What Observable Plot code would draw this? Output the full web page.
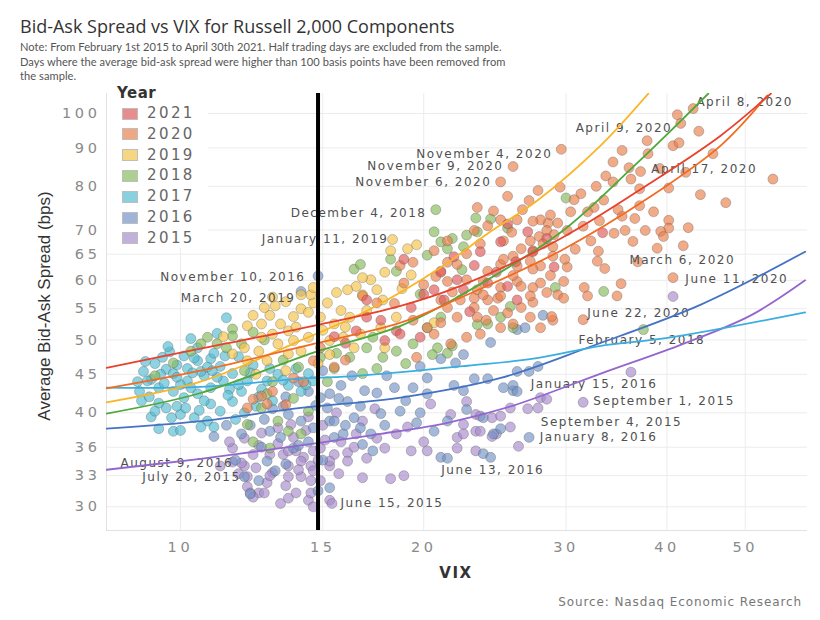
<!DOCTYPE html>
<html><head><meta charset="utf-8">
<script src="https://cdn.jsdelivr.net/npm/d3@7"></script>
<script src="https://cdn.jsdelivr.net/npm/@observablehq/plot@0.6"></script>
<style>
body{margin:0;background:#fff}
#root{position:relative;width:820px;height:620px;overflow:hidden;font-family:"Open Sans",sans-serif}
#title{position:absolute;left:20px;top:14px;font-size:18px;line-height:24px;color:#333;white-space:nowrap}
#sub{position:absolute;left:20px;top:40px;font-family:Lato,"Open Sans",sans-serif;font-size:11.1px;line-height:14.5px;color:#555;white-space:nowrap;letter-spacing:0.05px}
#chart{position:absolute;left:0;top:85px}
#legend{position:absolute;left:107px;top:84px;width:101px;height:164px;background:#fff}
#legend .hd{position:absolute;left:10px;top:0;height:18px;line-height:18px;font-family:"DejaVu Sans";font-weight:bold;font-size:15px;color:#333;letter-spacing:0.5px}
#legend .row{position:absolute;left:15px;height:20px;line-height:20px;font-family:"DejaVu Sans";font-size:15px;color:#666;letter-spacing:2.4px}
#legend .sw{position:absolute;left:0;top:4.5px;width:14px;height:10px;border:1px solid #a0a0a0}
#legend .lt{position:absolute;left:25px;top:0}
#ytitle{position:absolute;left:45px;top:306px;transform:translate(-50%,-50%) rotate(-90deg);white-space:nowrap;font-family:"Liberation Sans Narrow","Liberation Sans",sans-serif;font-size:17px;color:#333}
#xtitle{position:absolute;left:456px;top:573px;transform:translate(-50%,-50%);font-family:"DejaVu Sans";font-weight:bold;font-size:15px;letter-spacing:1.5px;color:#333}
#caption{position:absolute;right:18px;top:602px;transform:translateY(-50%);font-family:"DejaVu Sans";font-size:12px;letter-spacing:0.9px;color:#777}
#chart svg text{letter-spacing:1.5px}
#chart [aria-label^="x-axis"] text,#chart [aria-label^="y-axis"] text{fill:#8a8a8a;font-size:14.5px;letter-spacing:3.6px;font-family:"DejaVu Sans"}
</style></head>
<body>
<div id="root">
  <div id="title">Bid-Ask Spread vs VIX for Russell 2,000 Components</div>
  <div id="sub">Note: From February 1st 2015 to April 30th 2021. Half trading days are excluded from the sample.<br>Days where the average bid-ask spread were higher than 100 basis points have been removed from<br>the sample.</div>
  <div id="chart"></div>
  <div id="legend"></div>
  <div id="ytitle">Average Bid-Ask Spread (bps)</div>
  <div id="xtitle">VIX</div>
  <div id="caption">Source: Nasdaq Economic Research</div>
</div>
<script>
// ---------- data ----------
const xTicks = [10, 15, 20, 30, 40, 50];
const yTicks = [30, 33, 36, 40, 45, 50, 55, 60, 65, 70, 80, 90, 100];
const years = [2021, 2020, 2019, 2018, 2017, 2016, 2015];
const pointColors = ["#de5658", "#ea7e4a", "#f4c347", "#84ba5b", "#52bcd3", "#7392c4", "#a68bcc"];
const lineColors = ["#e8412c", "#f26b21", "#fbb425", "#4ea83a", "#3aaee0", "#4472c4", "#9467cf"];
const thresholdVix = 14.8;

// [VIX, average bid-ask spread (bps)]
const pts2015 = [[13.3,30.3],[13.9,31.3],[12.5,31.3],[12.8,32.3],[13.0,33.3],[13.6,34.0],[14.1,32.9],[14.5,34.0],[12.0,34.0],[12.3,35.2],
[12.9,35.2],[13.4,35.2],[13.9,35.6],[14.6,35.6],[15.5,35.2],[15.3,34.0],[14.9,32.5],[14.4,30.6],[15.3,30.6],[13.8,37.1],
[13.2,38.2],[11.6,35.9],[11.9,34.3],[12.1,31.9],[12.2,31.3],[12.7,31.3],[13.6,32.9],[14.2,34.9],[14.5,31.3],[14.6,30.0],
[11.2,34.0],[11.6,34.4],[11.5,36.6],[15.4,30.3],[18.2,32.7],[18.9,33.0],[16.1,35.4],[15.8,36.6],[16.5,37.5],[17.9,35.9],
[18.5,37.5],[19.1,38.3],[20.0,36.6],[19.3,35.6],[20.2,35.6],[22.0,37.1],[22.4,38.6],[23.2,37.8],[24.6,37.5],[25.6,38.3],
[26.9,40.5],[20.4,41.1],[21.6,39.8],[22.6,41.4],[23.2,39.8],[14.9,35.9],[15.3,34.5],[16.1,34.5],[14.5,32.5],[13.6,35.6],
[14.1,34.5],[14.6,33.5],[31.5,41.3],[36.1,45.3],[40.7,57.1],[27.9,41.9],[28.4,41.7],[27.7,40.6],[25.6,40.6],[24.3,39.4],
[23.5,39.6],[24.9,39.6],[26.2,36.1],[23.2,35.6],[22.0,35.9],[23.5,37.8],[22.4,37.5],[24.3,37.2],[12.1,32.9],[15.0,38.5],
[15.6,40.0],[14.4,39.5],[16.8,39.0],[17.4,40.5],[12.5,36.2],[12.0,37.0],[12.4,33.8],[12.9,33.0],[13.5,32.0],[14.0,33.6],
[14.8,34.6],[13.2,36.4],[12.6,37.6],[13.7,38.6],[14.3,37.9],[15.1,36.8],[16.4,36.0],[17.0,34.8],[15.7,33.2],[12.3,30.9],
[11.8,33.2],[13.6,30.8],[16.8,32.8],[17.5,37.0]];

const pts2016 = [[14.4,42.7],[14.9,41.9],[15.2,40.6],[13.6,39.8],[14.1,39.0],[14.6,38.2],[15.3,39.0],[13.3,37.1],[13.8,35.9],[14.4,36.6],
[15.5,37.1],[12.0,32.9],[12.2,31.2],[12.5,32.5],[12.8,34.5],[11.4,38.5],[11.9,37.5],[12.2,38.5],[18.4,43.2],[19.4,43.2],
[20.2,42.4],[22.4,42.8],[25.1,43.2],[25.8,42.8],[16.7,40.8],[17.7,39.9],[16.7,38.2],[17.2,37.5],[19.6,38.8],[20.6,37.8],
[21.4,39.0],[23.7,39.4],[24.9,38.1],[21.0,34.9],[21.4,34.8],[23.7,35.3],[24.2,34.9],[17.3,35.6],[16.8,36.3],[15.9,37.5],
[15.5,39.0],[16.4,39.4],[16.1,41.4],[15.3,42.4],[15.3,31.8],[14.8,31.5],[28.1,53.9],[26.1,51.6],[26.7,51.9],[24.2,49.6],
[27.7,46.1],[27.0,45.4],[26.1,45.4],[25.8,43.5],[26.1,42.7],[24.0,44.4],[23.1,44.4],[21.9,46.6],[22.4,47.8],[21.0,47.2],
[19.8,46.1],[20.2,44.5],[27.0,37.1],[24.4,37.5],[14.8,60.8],[14.1,58.0],[11.7,34.6],[13.0,40.5],[13.5,42.0],[14.0,44.0],
[15.8,43.5],[16.3,44.8],[15.0,45.5],[17.5,42.5],[18.0,44.8],[19.0,41.5],[12.6,36.0],[11.0,37.2],[13.1,33.5],[13.4,40.8],
[12.7,39.2],[14.7,40.9],[15.7,41.8],[16.9,42.8],[12.9,37.8],[14.0,36.2],[15.0,34.6],[13.5,34.2],[16.0,38.5],[18.7,40.2],
[17.9,38.5],[19.8,40.0],[22.6,40.4],[21.8,43.5]];

const pts2017 = [[11.4,53.5],[9.5,47.4],[9.2,44.3],[9.4,43.2],[9.6,45.7],[9.9,46.3],[10.2,45.8],[10.5,46.9],[10.9,47.2],[11.2,46.1],
[10.7,44.8],[10.2,44.1],[9.8,42.7],[10.1,41.9],[10.5,42.4],[10.9,43.2],[11.3,44.1],[11.6,45.1],[9.6,40.6],[10.0,39.8],
[10.4,39.4],[9.2,39.5],[9.4,38.1],[10.9,41.1],[11.2,40.2],[10.8,39.0],[9.1,44.1],[9.45,45.0],[10.6,45.4],[11.0,48.0],
[10.5,48.8],[10.1,47.6],[11.9,42.7],[11.6,41.4],[12.1,44.1],[9.8,45.1],[10.3,43.2],[8.9,42.7],[9.0,45.4],[9.8,37.8],
[14.4,45.1],[14.6,44.1],[14.1,42.7],[14.3,43.6],[13.6,43.5],[12.3,46.3],[12.8,44.1],[9.3,46.5],[10.0,43.6],[10.7,41.5],
[11.5,43.0],[12.5,42.0],[13.2,45.0],[9.7,48.2],[12.0,40.0],[13.0,41.5],[11.0,38.3],[9.9,40.8],[8.95,41.5],[10.3,50.2],
[9.4,41.2],[11.8,47.5],[9.15,42.0],[9.55,43.8],[9.9,44.6],[10.35,45.2],[10.8,46.0],[11.1,44.6],[11.45,42.2],[10.55,40.3],
[10.15,40.6],[9.75,39.4],[9.3,40.2],[8.85,44.0],[9.05,46.8],[9.65,49.0],[10.4,47.3],[10.95,45.5],[11.35,47.6],[11.8,43.6],
[12.2,45.2],[12.6,43.0],[13.4,44.2],[13.9,45.8],[12.9,45.8],[12.4,40.8],[11.7,39.2],[10.6,38.3],[10.0,37.9],[11.1,51.0]];

const pts2018 = [[10.8,50.4],[11.6,51.7],[11.6,50.6],[11.4,48.8],[11.1,49.4],[11.9,49.4],[9.8,46.6],[10.6,49.4],[12.6,40.6],[13.2,39.0],
[13.6,37.8],[14.1,37.5],[12.3,36.6],[12.9,35.9],[14.4,40.2],[13.8,41.8],[12.8,42.4],[12.1,38.6],[14.9,47.4],[15.6,48.0],
[15.5,45.8],[16.2,47.4],[17.0,48.8],[17.3,50.4],[16.8,45.1],[17.8,47.4],[18.5,48.3],[19.4,49.4],[20.2,51.9],[21.0,53.6],
[16.4,62.1],[16.7,63.0],[18.2,64.0],[18.5,61.7],[20.6,69.6],[21.0,67.5],[21.4,66.1],[21.7,68.2],[22.6,68.9],[23.2,72.6],
[23.3,69.6],[24.2,72.4],[22.4,66.5],[25.4,70.4],[20.2,64.8],[20.8,48.8],[24.0,52.5],[24.9,53.6],[25.6,55.4],[25.8,51.9],
[20.7,74.5],[30.0,77.2],[33.4,58.0],[29.1,58.7],[37.4,51.6],[23.3,52.4],[21.4,48.0],[20.5,47.8],[21.7,49.1],[12.7,50.0],
[13.4,47.0],[12.0,45.5],[13.0,44.0],[14.0,46.0],[9.3,44.8],[12.3,51.2],[10.3,48.3],[15.2,44.0],[17.5,45.8],[19.0,46.5],
[22.3,62.0],[19.8,57.5]];

const pts2019 = [[12.3,53.9],[12.9,53.9],[12.1,52.2],[12.6,52.5],[13.3,52.5],[13.8,53.7],[14.1,55.0],[14.6,56.0],[14.5,57.4],[14.4,54.4],
[13.6,51.4],[13.0,50.9],[12.6,50.4],[12.0,48.8],[12.5,48.3],[13.2,49.4],[13.8,49.9],[14.4,50.4],[11.6,47.9],[12.1,46.9],
[12.8,46.9],[13.6,47.9],[14.1,48.3],[14.6,58.7],[15.2,56.0],[15.8,54.7],[14.9,53.6],[15.5,52.5],[16.2,53.6],[16.5,58.9],
[17.2,60.1],[17.5,58.3],[17.9,61.5],[18.2,65.7],[19.1,66.1],[19.6,66.9],[17.8,56.5],[17.0,54.7],[15.9,50.4],[16.7,50.9],
[15.3,49.9],[17.7,51.9],[18.5,53.6],[20.6,52.7],[16.1,58.3],[16.8,57.4],[16.4,48.8],[17.9,48.8],[12.4,45.0],[13.5,45.5],
[14.8,46.5],[11.3,50.5],[14.1,57.4],[18.3,68.0],[13.1,55.5],[15.0,51.5],[13.0,57.0],[12.7,55.2],[13.5,56.2],[15.6,57.8],
[16.8,60.5],[18.8,58.5],[19.3,61.0],[15.3,47.8],[16.0,52.0],[13.9,52.0]];

const pts2020 = [[43.1,101.5],[41.2,99.6],[41.6,97.0],[43.8,94.7],[37.8,92.0],[40.7,90.6],[41.4,91.4],[37.9,88.4],[34.3,86.2],[35.9,84.7],
[45.6,88.4],[54.1,81.8],[47.3,76.1],[40.2,79.6],[37.0,79.4],[36.1,81.8],[33.6,82.6],[34.3,81.1],[33.4,76.7],[32.5,75.0],
[31.3,78.2],[29.5,79.8],[27.7,79.0],[27.0,76.6],[25.4,77.6],[35.2,73.0],[37.0,75.4],[40.2,72.1],[40.2,70.4],[39.3,69.7],
[37.6,69.9],[35.5,69.9],[34.4,69.3],[36.3,67.6],[39.6,68.6],[41.9,66.7],[40.7,60.5],[35.1,59.4],[34.7,57.2],[31.6,58.7],
[32.9,65.6],[32.8,63.6],[32.2,67.7],[31.9,74.0],[30.4,74.0],[30.1,69.9],[29.3,71.5],[28.5,71.5],[27.9,72.2],[28.4,69.9],
[27.8,68.6],[27.1,67.7],[28.1,67.1],[28.9,66.5],[27.3,65.7],[26.4,66.1],[25.8,64.6],[27.1,63.6],[27.9,62.7],[28.9,64.6],
[30.1,62.5],[26.1,62.7],[24.9,63.0],[25.1,67.7],[23.5,67.1],[23.1,69.9],[24.0,70.9],[24.9,72.2],[26.1,72.2],[24.4,74.2],
[23.3,75.0],[21.4,67.7],[20.6,65.7],[22.0,63.0],[22.6,65.1],[21.0,61.7],[21.4,59.8],[21.7,57.9],[23.7,59.8],[24.0,61.7],
[24.9,58.7],[26.1,59.8],[27.3,58.7],[28.4,57.8],[29.8,59.8],[29.3,57.4],[27.3,56.1],[24.7,56.8],[23.1,56.8],[20.7,60.7],
[20.0,59.2],[29.6,89.6],[25.8,85.0],[24.9,81.1],[31.5,53.2],[27.3,71.9],[28.7,73.3],[21.4,63.4],[19.4,63.4],[18.7,62.8],
[18.9,59.5],[22.6,60.1],[23.3,58.3],[25.1,64.0],[25.8,60.9],[26.4,58.9],[27.3,62.1],[27.9,59.5],[28.7,60.9],[24.9,57.2],
[24.0,56.5],[23.1,55.2],[22.2,56.5],[21.4,55.2],[22.0,53.6],[23.3,53.6],[24.4,54.7],[25.4,54.3],[26.4,55.2],[27.1,53.6],
[27.9,51.9],[28.9,53.1],[20.6,50.9],[19.4,53.1],[18.4,55.9],[14.9,48.8],[14.6,46.9],[19.6,47.4],[21.6,49.4],[22.6,50.4],
[23.5,50.9],[12.3,41.7],[12.6,42.1],[12.1,40.6],[12.8,41.1],[14.2,44.0],[13.0,42.7],[13.5,41.0],[13.8,44.5],[15.5,46.0],
[16.0,47.0],[16.8,57.2],[17.5,56.0],[21.0,56.5],[23.7,57.4],[25.8,52.5],[24.9,51.9],[23.9,53.1],[27.1,57.2],[28.8,53.7],
[29.8,56.8],[31.9,57.2],[21.0,52.7],[20.2,51.9],[37.1,83.7],[30.8,66.0],[31.5,70.8],[33.0,72.0],[34.8,74.5],[36.5,72.5],
[38.5,74.0],[38.9,66.2],[42.5,70.5],[44.0,78.0],[29.0,69.0],[30.7,76.8],[26.5,74.5],[25.7,69.5],[33.5,62.2],[36.8,63.5],
[42.2,83.5],[39.2,84.5],[35.2,89.3],[32.7,80.0],[29.9,64.0]];

const pts2021 = [[18.9,64.0],[17.0,56.5],[16.5,51.4],[17.0,53.6],[17.7,53.1],[18.5,51.4],[20.6,58.3],[21.2,56.5],[22.0,60.1],[22.4,58.3],
[23.1,62.8],[24.0,59.5],[24.6,61.5],[25.4,58.9],[26.1,56.5],[23.5,65.5],[24.9,67.5],[27.3,65.5],[28.4,68.2],[25.4,71.3],
[26.9,69.6],[21.0,61.5],[19.3,55.2],[18.7,50.9],[17.9,49.9],[19.8,50.4],[33.3,69.4],[22.8,54.5],[20.0,57.5],[26.0,63.5],
[29.0,62.5],[21.8,64.5],[16.0,49.5],[15.5,50.5]];

// fitted trend lines per year: [VIX, spread]
const fit2021 = [[8.1,45.9],[10.59,48.7],[14.61,52.2],[18.73,55.5],[22.22,59.0],[29.56,68.2],[38.21,80.9],[46.65,93.5],[53.8,106.3]];
const fit2020 = [[8.1,43.1],[10.59,45.5],[14.61,49.4],[18.73,52.7],[22.22,56.9],[29.56,65.7],[38.21,77.6],[46.65,90.7],[53.25,105.7]];
const fit2019 = [[8.1,41.3],[10.59,44.0],[14.08,49.9],[17.04,54.7],[20.99,62.4],[23.98,69.2],[27.65,76.6],[33.13,90.7],[37.94,106.3]];
const fit2018 = [[8.1,39.9],[10.59,42.5],[14.61,48.1],[18.73,52.2],[22.22,57.3],[29.56,69.5],[36.35,85.0],[40.45,94.9],[45.0,106.3]];
const fit2017 = [[8.1,43.2],[10.59,43.3],[14.08,44.4],[16.56,44.8],[22.65,46.2],[27.34,47.2],[33.13,49.1],[40.05,50.3],[59.3,54.4]];
const fit2016 = [[8.1,38.1],[10.59,39.0],[14.08,40.6],[18.73,41.9],[24.91,44.5],[32.2,49.0],[44.06,55.7],[59.3,65.5]];
const fit2015 = [[8.1,33.6],[10.59,34.75],[13.3,35.9],[17.69,37.5],[21.4,38.8],[25.82,40.9],[33.13,45.1],[41.9,49.4],[50.8,53.9],[59.3,60.0]];

// annotation labels: text, VIX, spread, anchor
const labelText = ["April 8, 2020","April 9, 2020","November 4, 2020","November 9, 2020","November 6, 2020","April 17, 2020",
  "December 4, 2018","January 11, 2019","November 10, 2016","March 20, 2019","March 6, 2020","June 11, 2020","June 22, 2020",
  "February 5, 2018","January 15, 2016","September 1, 2015","September 4, 2015","January 8, 2016","June 13, 2016",
  "June 15, 2015","August 9, 2016","July 20, 2015"];
const labelVix = [43.5,40.6,28.86,25.1,24.25,38.26,20.16,18.09,14.28,13.88,35.94,42.15,31.88,31.08,27.13,32.43,27.92,27.84,21.03,15.78,8.43,8.97];
const labelSpread = [103.4,95.5,88.2,85.0,81.1,84.2,73.8,68.0,60.5,56.9,63.9,60.3,54.2,49.9,43.7,41.4,38.9,37.1,33.6,30.3,34.3,32.8];
const labelAnchor = ["start","end","end","end","end","start","end","end","end","end","start","start","start",
  "start","start","start","start","start","start","start","start","start"];

// ---------- build ----------
const pointSets = {2021: pts2021, 2020: pts2020, 2019: pts2019, 2018: pts2018, 2017: pts2017, 2016: pts2016, 2015: pts2015};
const fitSets = {2021: fit2021, 2020: fit2020, 2019: fit2019, 2018: fit2018, 2017: fit2017, 2016: fit2016, 2015: fit2015};
const labels = labelText.map((t, i) => ({text: t, vix: labelVix[i], spread: labelSpread[i], anchor: labelAnchor[i]}));

const drawOrder = years.slice().reverse(); // 2015 first
const marks = [];
marks.push(Plot.ruleX(xTicks, {stroke: "#ececec", strokeWidth: 1}));
marks.push(Plot.ruleY(yTicks, {stroke: "#ececec", strokeWidth: 1}));
marks.push(Plot.ruleX([8.1], {stroke: "#e2e2e2"}));
marks.push(Plot.ruleY([27.9], {stroke: "#e2e2e2"}));
for (const yr of drawOrder) {
  const i = years.indexOf(yr);
  const data = pointSets[yr].map(([v, s]) => ({vix: v, spread: s}));
  marks.push(Plot.dot(data, {x: "vix", y: "spread", r: 5, fill: pointColors[i], fillOpacity: 0.65,
    stroke: "#505050", strokeOpacity: 0.4, strokeWidth: 0.8}));
}
for (const anchor of ["start", "end"]) {
  marks.push(Plot.text(labels.filter(d => d.anchor === anchor), {x: "vix", y: "spread", text: "text",
    textAnchor: anchor, fill: "#505050", fontSize: 12, fontFamily: "DejaVu Sans"}));
}
for (const yr of drawOrder) {
  const i = years.indexOf(yr);
  const data = fitSets[yr].map(([v, s]) => ({vix: v, spread: s}));
  marks.push(Plot.line(data, {x: "vix", y: "spread", stroke: lineColors[i], strokeWidth: 1.8, curve: "catmull-rom", clip: true}));
}
marks.push(Plot.ruleX([thresholdVix], {stroke: "#000", strokeWidth: 4}));

const chart = Plot.plot({
  width: 820, height: 500,
  marginLeft: 106, marginRight: 13, marginTop: 8, marginBottom: 55,
  style: {fontFamily: "DejaVu Sans", fontSize: "14px", background: "transparent", overflow: "visible"},
  x: {type: "log", domain: [8.1, 59.7], ticks: xTicks, tickFormat: d => String(d), tickSize: 0, tickPadding: 11, label: null},
  y: {type: "log", domain: [27.9, 106.3], ticks: yTicks, tickFormat: d => String(d), tickSize: 0, tickPadding: 6, label: null},
  marks
});
document.getElementById("chart").appendChild(chart);

// legend
const lg = document.getElementById("legend");
lg.innerHTML = '<div class="hd" style="top:0px">Year</div>' + years.map((yr, i) =>
  `<div class="row" style="top:${19 + i * 20.8}px"><div class="sw" style="background:${pointColors[i]};opacity:0.68"></div><div class="lt">${yr}</div></div>`).join("");
</script>
</body></html>
